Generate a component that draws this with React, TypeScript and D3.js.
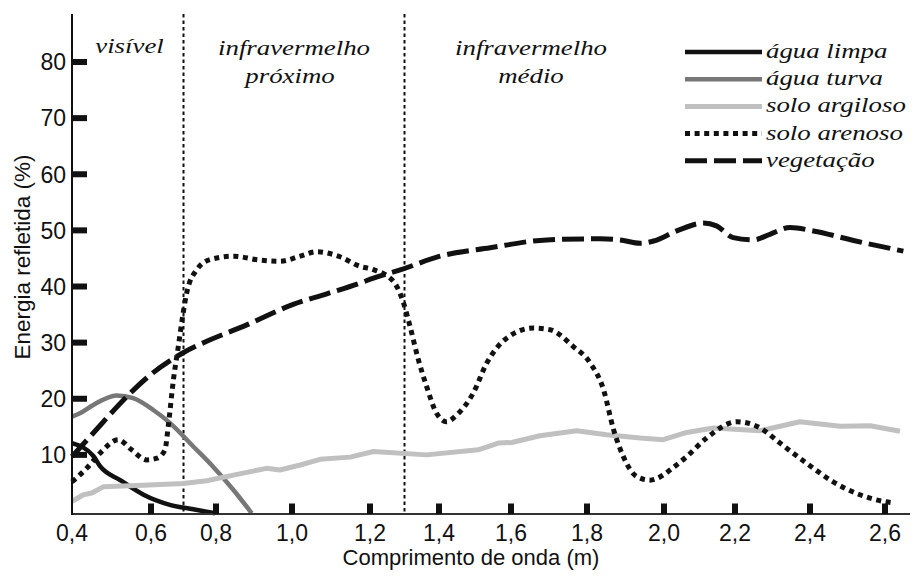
import React from "react";
import * as d3 from "d3";

// ---- data (x: comprimento de onda µm, y: energia refletida %) ----
const aguaLimpa: [number, number][] = [
  [0.4, 12.1], [0.454, 9.8], [0.471, 8.0], [0.522, 5.5], [0.581, 2.9],
  [0.658, 1.1], [0.73, 0.3], [0.797, -0.4],
];
const aguaTurva: [number, number][] = [
  [0.4, 16.8], [0.42, 17.4], [0.454, 18.9], [0.513, 20.6], [0.555, 20.1],
  [0.607, 18.0], [0.658, 15.7], [0.73, 11.5], [0.791, 7.9], [0.846, 3.75], [0.894, -0.4],
];
const soloArgiloso: [number, number][] = [
  [0.4, 1.7], [0.429, 2.9], [0.45, 3.2], [0.479, 4.3], [0.58, 4.6], [0.699, 4.9],
  [0.771, 5.4], [0.846, 6.4], [0.933, 7.6], [0.968, 7.3], [1.021, 8.2], [1.072, 9.2],
  [1.149, 9.6], [1.21, 10.6], [1.364, 10.0], [1.509, 10.9], [1.565, 12.1], [1.602, 12.2],
  [1.676, 13.4], [1.773, 14.3], [1.851, 13.6], [1.938, 13.0], [1.998, 12.7], [2.064, 14.0],
  [2.139, 14.8], [2.267, 14.3], [2.373, 15.9], [2.48, 15.1], [2.56, 15.2], [2.64, 14.2],
];
const soloArenoso: [number, number][] = [
  [0.4, 5.2], [0.437, 7.6], [0.471, 10.3], [0.517, 12.7], [0.551, 10.9], [0.589, 9.1],
  [0.618, 9.4], [0.643, 10.9], [0.653, 15.1], [0.669, 23.4], [0.684, 29.3], [0.699, 35.3],
  [0.71, 38.9], [0.741, 43.0], [0.782, 44.8], [0.846, 45.4], [0.916, 44.7], [0.968, 44.5],
  [1.021, 45.4], [1.063, 46.2], [1.123, 45.3], [1.174, 43.6], [1.21, 43.0], [1.268, 40.9],
  [1.297, 37.1], [1.316, 32.9], [1.34, 27.0], [1.364, 22.2], [1.393, 17.4], [1.421, 15.9],
  [1.449, 17.1], [1.495, 21.0], [1.533, 26.4], [1.588, 30.8], [1.659, 32.6], [1.703, 32.3],
  [1.764, 29.3], [1.808, 26.4], [1.843, 21.6], [1.869, 14.5], [1.895, 9.6], [1.93, 6.1],
  [1.964, 5.5], [1.998, 6.4], [2.017, 7.3], [2.064, 9.7], [2.12, 13.0], [2.205, 15.9],
  [2.267, 14.8], [2.32, 12.1], [2.391, 8.5], [2.462, 5.2], [2.533, 2.9], [2.596, 1.7], [2.627, 1.4],
];
const vegetacao: [number, number][] = [
  [0.4, 9.7], [0.454, 13.9], [0.539, 20.4], [0.589, 23.7], [0.699, 28.2], [0.782, 30.5],
  [0.872, 32.9], [1.003, 36.8], [1.089, 38.7], [1.174, 40.6], [1.21, 41.5], [1.29, 43.0],
  [1.403, 45.4], [1.542, 46.9], [1.694, 48.3], [1.834, 48.5], [1.886, 48.3], [1.938, 47.7],
  [1.973, 48.1], [2.036, 49.9], [2.111, 51.3], [2.148, 50.8], [2.195, 48.7], [2.249, 48.3],
  [2.293, 49.3], [2.347, 50.5], [2.409, 49.9], [2.516, 48.2], [2.649, 46.3],
];

const xTicks = [0.4, 0.6, 0.8, 1.0, 1.2, 1.4, 1.6, 1.8, 2.0, 2.2, 2.4, 2.6];
const yTicks = [10, 20, 30, 40, 50, 60, 70, 80];
const regionBounds = [0.7, 1.3];
const legendLabels = ["água limpa", "água turva", "solo argiloso", "solo arenoso", "vegetação"];
const xTitle = "Comprimento de onda (m)";
const yTitle = "Energia refletida (%)";

// ---- layout ----
const W = 914, H = 577;
const x = d3.scaleLinear()
  .domain(xTicks)
  .range([72, 151, 216, 292, 370, 439, 511, 587, 664, 735, 810, 885]);
const y = d3.scaleLinear().domain([0, 80]).range([511, 62]);
const axisY = 514;
const topY = 14;

const sans = "'Liberation Sans', Arial, Helvetica, sans-serif";
const SX = 1.22;

const styles = [
  { stroke: "#111", width: 4.5, dash: null as string | null, curve: d3.curveMonotoneX },
  { stroke: "#777", width: 4.5, dash: null, curve: d3.curveMonotoneX },
  { stroke: "#c0c0c0", width: 5, dash: null, curve: d3.curveLinear },
  { stroke: "#111", width: 5, dash: "5 4.6", curve: d3.curveMonotoneX },
  { stroke: "#111", width: 5, dash: "22 7", curve: d3.curveMonotoneX },
];
const series = [aguaLimpa, aguaTurva, soloArgiloso, soloArenoso, vegetacao];

const serifStyle: React.CSSProperties = {
  fontFamily: '"Liberation Serif", "Times New Roman", Times, serif',
  fontStyle: "italic",
  fontSize: "22px",
};

function SText(props: { x: number; y: number; children: string; anchor?: string }) {
  return (
    <text
      transform={`translate(${props.x},${props.y}) scale(${SX},1)`}
      textAnchor={props.anchor ?? "middle"}
      style={serifStyle}
      fill="#111"
    >
      {props.children}
    </text>
  );
}

export default function App() {
  const fmt = (v: number) => v.toFixed(1).replace(".", ",");
  return (
    <svg width={W} height={H} style={{ position: "absolute", left: 0, top: 0, background: "#fff" }}>
      <rect width={W} height={H} fill="#fff" />
      {/* region separators */}
      {regionBounds.map((b) => (
        <line key={b} x1={x(b)} x2={x(b)} y1={topY} y2={axisY} stroke="#111" strokeWidth={2} strokeDasharray="3.5 3" />
      ))}
      {/* region labels */}
      <SText x={129.5} y={53}>visível</SText>
      <SText x={294} y={55}>infravermelho</SText>
      <SText x={290} y={83}>próximo</SText>
      <SText x={531} y={55}>infravermelho</SText>
      <SText x={531} y={83}>médio</SText>

      {/* series */}
      {series.map((s, i) => {
        const st = styles[i];
        const line = d3.line<[number, number]>().x((d) => x(d[0])).y((d) => y(d[1])).curve(st.curve);
        return (
          <path
            key={i}
            d={line(s) ?? ""}
            fill="none"
            stroke={st.stroke}
            strokeWidth={st.width}
            strokeDasharray={st.dash ?? undefined}
            strokeLinejoin="round"
          />
        );
      })}

      {/* axes */}
      <line x1={72} x2={910} y1={axisY} y2={axisY} stroke="#333" strokeWidth={2} />
      <line x1={72} x2={72} y1={topY} y2={axisY + 1} stroke="#111" strokeWidth={2} />
      {yTicks.map((t) => (
        <g key={t}>
          <rect x={72} y={y(t) - 3} width={15} height={6} fill="#111" />
          <text x={66} y={y(t)} dy="0.36em" textAnchor="end" fontFamily={sans} fontSize={23} fill="#111">
            {t}
          </text>
        </g>
      ))}
      {xTicks.map((t, i) => (
        <g key={t}>
          {i > 0 && <rect x={x(t) - 3} y={axisY - 10.5} width={6} height={10.5} fill="#111" />}
          <text x={x(t)} y={541} textAnchor="middle" fontFamily={sans} fontSize={23} fill="#111">
            {fmt(t)}
          </text>
        </g>
      ))}
      <text x={471} y={565} textAnchor="middle" fontFamily={sans} fontSize={22} fill="#111">
        {xTitle}
      </text>
      <text
        transform={`translate(30,257) rotate(-90)`}
        textAnchor="middle"
        fontFamily={sans}
        fontSize={22.5}
        fill="#111"
      >
        {yTitle}
      </text>

      {/* legend */}
      {legendLabels.map((lab, i) => {
        const ly = 52 + i * 27.2;
        const st = styles[i];
        return (
          <g key={lab}>
            <line x1={685} x2={762} y1={ly} y2={ly} stroke={st.stroke} strokeWidth={st.width} strokeDasharray={st.dash ?? undefined} />
            <SText x={766} y={ly + 6} anchor="start">{lab}</SText>
          </g>
        );
      })}
    </svg>
  );
}
